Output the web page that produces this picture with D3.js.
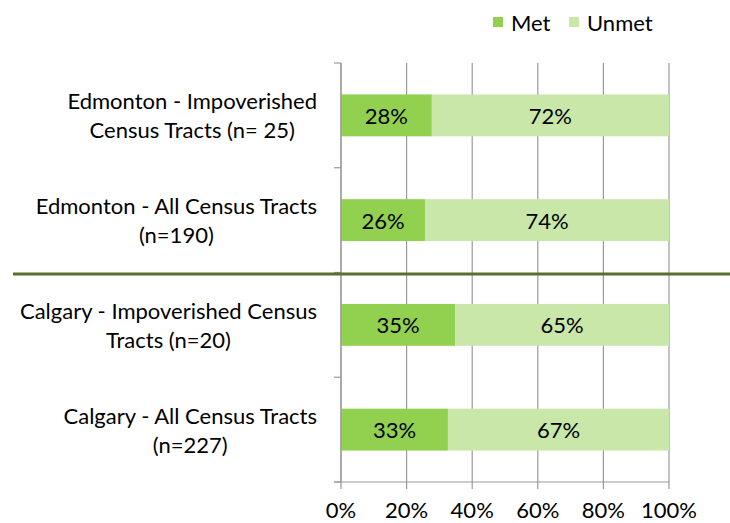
<!DOCTYPE html>
<html>
<head>
<meta charset="utf-8">
<script src="https://cdn.jsdelivr.net/npm/d3@7"></script>
<style>
  body { margin: 0; background: #fff; }
  text { font-family: Lato, "Open Sans", sans-serif; fill: #000; }
</style>
</head>
<body>
<script>
const categories = [
  ["Edmonton - Impoverished", "Census Tracts (n= 25)"],
  ["Edmonton - All Census Tracts", "(n=190)"],
  ["Calgary - Impoverished Census", "Tracts (n=20)"],
  ["Calgary - All Census Tracts", "(n=227)"]
];
const seriesNames = ["Met", "Unmet"];
const metValues = [0.277, 0.256, 0.348, 0.326];
const unmetValues = [0.723, 0.744, 0.652, 0.674];
const tickValues = [0, 0.2, 0.4, 0.6, 0.8, 1];

const width = 730,
  height = 523,
  margin = { top: 63, right: 61, bottom: 41, left: 341 };

const colors = { Met: "#92d050", Unmet: "#c9e7a8" };
const gridColor = "#9a9a9a";
const fontSize = 22;

const svg = d3.select("body")
  .append("svg")
  .attr("width", width)
  .attr("height", height);

const keys = categories.map((c, i) => i);

const x = d3.scaleLinear()
  .domain([0, 1])
  .range([margin.left, width - margin.right]);

const y = d3.scaleBand()
  .domain(keys)
  .range([margin.top, height - margin.bottom])
  .paddingInner(0.6)
  .paddingOuter(0.3);

const rows = keys.map(i => ({ i: i, Met: metValues[i], Unmet: unmetValues[i] }));
const stacked = d3.stack().keys(seriesNames)(rows);

// vertical gridlines, extend below axis as ticks
svg.append("g")
  .selectAll("line")
  .data(tickValues)
  .join("line")
  .attr("x1", d => x(d))
  .attr("x2", d => x(d))
  .attr("y1", margin.top)
  .attr("y2", height - margin.bottom + 7)
  .attr("stroke", gridColor)
  .attr("stroke-width", 1.2);

// bars
const layer = svg.append("g")
  .selectAll("g")
  .data(stacked)
  .join("g")
  .attr("fill", d => colors[d.key]);

layer.selectAll("rect")
  .data(d => d)
  .join("rect")
  .attr("x", d => x(d[0]))
  .attr("y", d => y(d.data.i))
  .attr("width", d => x(d[1]) - x(d[0]))
  .attr("height", y.bandwidth());

const pct = d3.format(".0%");
layer.selectAll("text")
  .data(d => d)
  .join("text")
  .attr("x", d => (x(d[0]) + x(d[1])) / 2)
  .attr("y", d => y(d.data.i) + y.bandwidth() / 2)
  .attr("text-anchor", "middle")
  .attr("dominant-baseline", "central")
  .attr("fill", "#000")
  .style("font-size", fontSize + "px")
  .text(d => pct(d[1] - d[0]));

// left axis line and category boundary ticks
const yBottom = height - margin.bottom;
svg.append("line")
  .attr("x1", x(0)).attr("x2", x(0))
  .attr("y1", margin.top).attr("y2", yBottom)
  .attr("stroke", gridColor).attr("stroke-width", 1.2);

const bounds = d3.range(categories.length + 1).map(i => margin.top + i * y.step());
svg.append("g")
  .selectAll("line")
  .data(bounds)
  .join("line")
  .attr("x1", x(0) - 7)
  .attr("x2", x(0))
  .attr("y1", d => d)
  .attr("y2", d => d)
  .attr("stroke", gridColor)
  .attr("stroke-width", 1.2);

// bottom axis line
svg.append("line")
  .attr("x1", x(0) - 7).attr("x2", x(1))
  .attr("y1", yBottom).attr("y2", yBottom)
  .attr("stroke", gridColor).attr("stroke-width", 1.2);

// x tick labels
svg.append("g")
  .selectAll("text")
  .data(tickValues)
  .join("text")
  .attr("x", d => x(d))
  .attr("y", yBottom + 36)
  .attr("text-anchor", "middle")
  .style("font-size", fontSize + "px")
  .text(d => pct(d));

// category labels: wrapped, centred lines, block right-aligned
const labelRight = 317,
  lineGap = 29;
const label = svg.append("g")
  .selectAll("g")
  .data(keys)
  .join("g");

label.each(function (i) {
  const g = d3.select(this);
  const lines = categories[i];
  const cy = y(i) + y.bandwidth() / 2;
  const texts = lines.map((t, j) =>
    g.append("text")
      .attr("y", cy + (j - (lines.length - 1) / 2) * lineGap)
      .attr("text-anchor", "middle")
      .attr("dominant-baseline", "central")
      .style("font-size", fontSize + "px")
      .text(t)
  );
  const maxW = d3.max(texts, t => t.node().getComputedTextLength());
  texts.forEach(t => t.attr("x", labelRight - maxW / 2));
});

// separator between the two cities
svg.append("line")
  .attr("x1", 13)
  .attr("x2", width)
  .attr("y1", bounds[2] + 1.5)
  .attr("y2", bounds[2] + 1.5)
  .attr("stroke", "#5b6e2f")
  .attr("stroke-width", 3);

// legend
const legendPos = [493, 569];
const legend = svg.append("g")
  .selectAll("g")
  .data(seriesNames)
  .join("g")
  .attr("transform", (d, i) => `translate(${legendPos[i]},17)`);

legend.append("rect")
  .attr("width", 10)
  .attr("height", 10)
  .attr("fill", d => colors[d]);

legend.append("text")
  .attr("x", 18)
  .attr("y", 5)
  .attr("dominant-baseline", "central")
  .style("font-size", fontSize + "px")
  .text(d => d);
</script>
</body>
</html>
